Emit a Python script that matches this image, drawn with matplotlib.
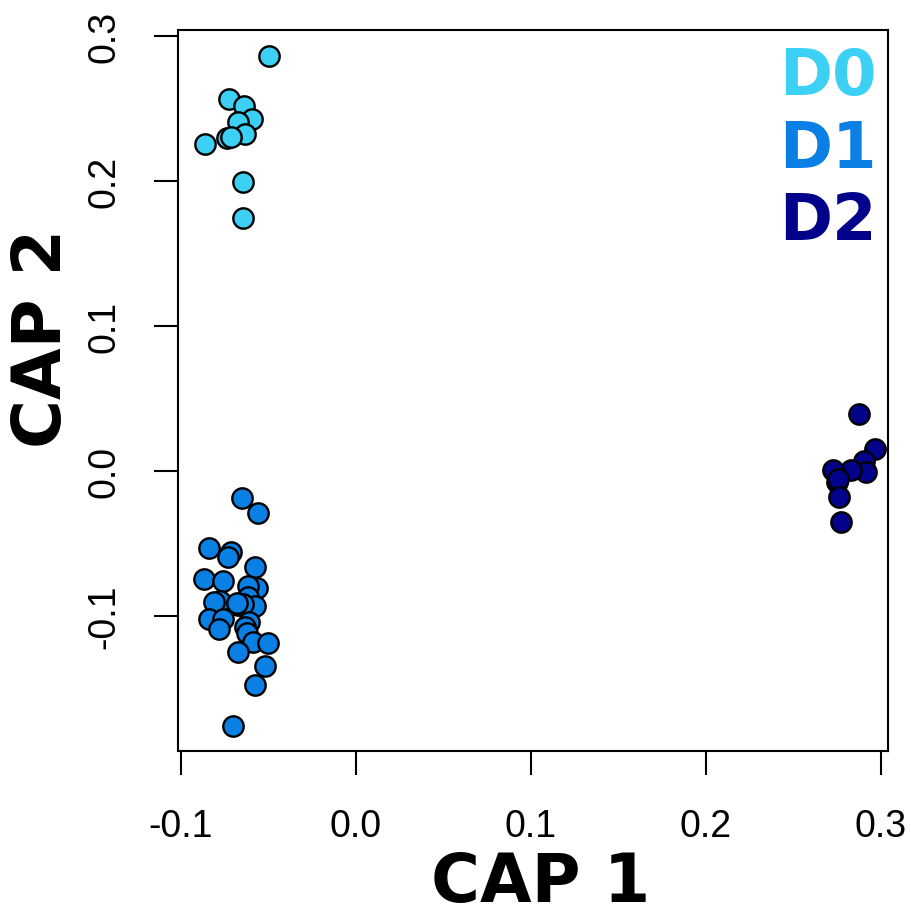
import matplotlib
matplotlib.use("Agg")
import matplotlib.pyplot as plt

groups = ["D0", "D1", "D2"]
colors = ["#3DD0F5", "#0A80E5", "#02028A"]

d0_x = [-0.0495, -0.0724, -0.0638, -0.0596, -0.0676, -0.0634, -0.0739, -0.0716, -0.0863, -0.0644, -0.0644]
d0_y = [0.2864, 0.2566, 0.2515, 0.2428, 0.2409, 0.2324, 0.2297, 0.2306, 0.2253, 0.1995, 0.1745]

d1_x = [-0.0653, -0.0558, -0.0840, -0.0714, -0.0733, -0.0577, -0.0869, -0.0762, -0.0567, -0.0615,
        -0.0615, -0.0777, -0.0810, -0.0673, -0.0577, -0.0644, -0.0838, -0.0758, -0.0781, -0.0610,
        -0.0634, -0.0625, -0.0587, -0.0501, -0.0673, -0.0520, -0.0577, -0.0701, -0.0681]
d1_y = [-0.0189, -0.0292, -0.0533, -0.0561, -0.0591, -0.0664, -0.0745, -0.0756, -0.0809, -0.0795,
        -0.0871, -0.0894, -0.0906, -0.0924, -0.0929, -0.0917, -0.1021, -0.1021, -0.1090, -0.1044,
        -0.1078, -0.1117, -0.1182, -0.1189, -0.1246, -0.1347, -0.1474, -0.1756, -0.0910]

d2_x = [0.2876, 0.2966, 0.2903, 0.2913, 0.2829, 0.2728, 0.2750, 0.2752, 0.2762, 0.2770]
d2_y = [0.0393, 0.0152, 0.0071, -0.0009, 0.0009, 0.0009, -0.0078, -0.0055, -0.0182, -0.0354]

x_ticks = [-0.1, 0.0, 0.1, 0.2, 0.3]
y_ticks = [-0.1, 0.0, 0.1, 0.2, 0.3]
x_ticklabels = ["-0.1", "0.0", "0.1", "0.2", "0.3"]
y_ticklabels = ["-0.1", "0.0", "0.1", "0.2", "0.3"]

fig = plt.figure(figsize=(9.11, 9.2), dpi=100)
ax = fig.add_axes([178/911, 1 - 752/920, (888-178)/911, (752-31)/920])

for xs, ys, c in zip([d0_x, d1_x, d2_x], [d0_y, d1_y, d2_y], colors):
    ax.scatter(xs, ys, s=215, c=c, edgecolors="black", linewidths=1.7, zorder=3)

ax.set_xlim(-0.1017, 0.304)
ax.set_ylim(-0.1931, 0.3041)
ax.set_xticks(x_ticks)
ax.set_xticklabels(x_ticklabels, fontfamily="Liberation Sans", fontsize=27)
ax.set_yticks(y_ticks)
ax.set_yticklabels(y_ticklabels, fontfamily="Liberation Sans", fontsize=27,
                   rotation=90, va="center")
ax.tick_params(axis="x", length=17, width=1.5, pad=24, direction="out")
ax.tick_params(axis="y", length=17, width=1.5, pad=23, direction="out")
for sp in ax.spines.values():
    sp.set_linewidth(1.5)

ax.set_xlabel("CAP 1", fontfamily="DejaVu Sans", fontweight="bold", fontsize=48)
ax.set_ylabel("CAP 2", fontfamily="DejaVu Sans", fontweight="bold", fontsize=48)
ax.xaxis.set_label_coords((541-178)/710, (920-883-168)/721)
ax.xaxis.label.set_va("center")
ax.yaxis.set_label_coords((42-178)/710, (920-338-168)/721)
ax.yaxis.label.set_va("center")
ax.yaxis.label.set_ha("center")

for i, (g, c) in enumerate(zip(groups, colors)):
    ax.text(877/911, 1 - (77 + 72.5*i)/920, g, transform=fig.transFigure,
            ha="right", va="center", color=c, fontfamily="DejaVu Sans",
            fontweight="bold", fontsize=46)

fig.savefig("out.png", dpi=100)
